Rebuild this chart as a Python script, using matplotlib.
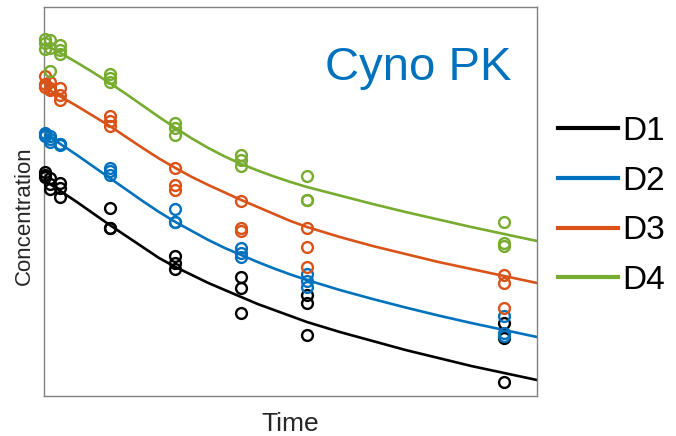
import numpy as np
import matplotlib
matplotlib.use("Agg")
import matplotlib.pyplot as plt
from matplotlib.lines import Line2D

plt.rcParams['font.family'] = ['Liberation Sans', 'DejaVu Sans']

# ---- data ----
doses = ["D1", "D2", "D3", "D4"]
colors = ["#000000", "#0072BD", "#D95319", "#77AC30"]

sample_times = [0.02, 0.18, 0.5, 2, 4, 6, 8, 14]

# observed concentrations (arbitrary units), 3 animals per time point
obs_D1 = [[224, 221, 219], [218, 212, 207], [213, 208, 199], [188, 168, 168],
          [140, 133, 127], [119, 108, 83], [101, 93, 61], [73, 58, 14]]
obs_D2 = [[263, 262, 260], [260, 257, 254], [252, 252, 251], [228, 225, 221],
          [187, 174, 174], [148, 143, 139], [122, 115, 109], [80, 63, 60]]
obs_D3 = [[320, 312, 309], [314, 308, 306], [308, 301, 296], [280, 275, 270],
          [228, 211, 206], [195, 168, 165], [168, 149, 129], [121, 113, 88]]
obs_D4 = [[357, 353, 347], [356, 348, 325], [351, 346, 342], [322, 318, 314],
          [273, 268, 261], [241, 236, 230], [220, 196, 196], [174, 153, 150]]

# model fit curves
fit_times = [0, 0.5, 1, 1.5, 2, 2.5, 3, 3.5, 4, 4.5, 5, 5.5, 6, 6.5, 7, 7.5,
             8, 9, 10, 11, 12, 13, 14, 15]
fit_D1 = [216, 205, 194, 182.5, 171, 160, 149, 138, 129, 121, 113, 106, 99,
          92, 86, 80, 74, 64, 55, 46, 38, 30, 23, 16]
fit_D2 = [263, 252, 241, 229.5, 218, 206.5, 195, 184, 174, 165, 156, 148, 141,
          134, 127.5, 121.5, 116, 106, 97, 88.5, 80.5, 73, 66, 59]
fit_D3 = [309, 299.5, 290, 280, 270, 259, 248, 237.5, 228, 219, 211, 203.5,
          196, 189, 182, 175, 169, 159, 150, 142, 134, 127, 120, 113]
fit_D4 = [352, 343, 333.5, 323.5, 313, 302, 290.5, 279, 268, 257.5, 248,
          239.5, 232, 225.5, 219.5, 214, 209, 200.5, 192, 184, 176.5, 169,
          162, 155]

obs_all = [obs_D1, obs_D2, obs_D3, obs_D4]
fit_all = [fit_D1, fit_D2, fit_D3, fit_D4]

# ---- figure ----
fig = plt.figure(figsize=(6.76, 4.36), dpi=100)
ax = fig.add_axes([44/676, 1-396/436, 493/676, 389/436])

handles = []
for name, col, obs, fit in zip(doses, colors, obs_all, fit_all):
    for t, vals in zip(sample_times, obs):
        ax.plot([t]*len(vals), vals, linestyle='none', marker='o',
                markersize=7.8, markerfacecolor='none', markeredgecolor=col,
                markeredgewidth=1.7, clip_on=False, zorder=3)
    ax.plot(fit_times, fit, color=col, linewidth=1.9, zorder=2,
            solid_joinstyle='round')
    handles.append(Line2D([0], [0], color=col, linewidth=3, label=name))

ax.set_xlim(0, 15)
ax.set_ylim(0, 389)
ax.set_xticks([])
ax.set_yticks([])
for s in ax.spines.values():
    s.set_color('#808080')
    s.set_linewidth(1.0)

ax.set_xlabel("Time", fontsize=19, color='#262626')
ax.xaxis.set_label_coords(0.5, -0.042)
ax.set_ylabel("Concentration", fontsize=16, color='#262626')
ax.yaxis.set_label_coords(-0.018, 0.463)

ax.text(0.949, 0.812, "Cyno PK", transform=ax.transAxes, ha='right',
        va='baseline', fontsize=34, color='#0072BD')

leg = fig.legend(handles=handles, loc='upper left',
                 bbox_to_anchor=(558/676, 1-116/436), frameon=False,
                 fontsize=24, handlelength=1.8, handletextpad=0.12,
                 labelspacing=0.56, borderpad=0, borderaxespad=0)

fig.savefig("out.png", dpi=100)
